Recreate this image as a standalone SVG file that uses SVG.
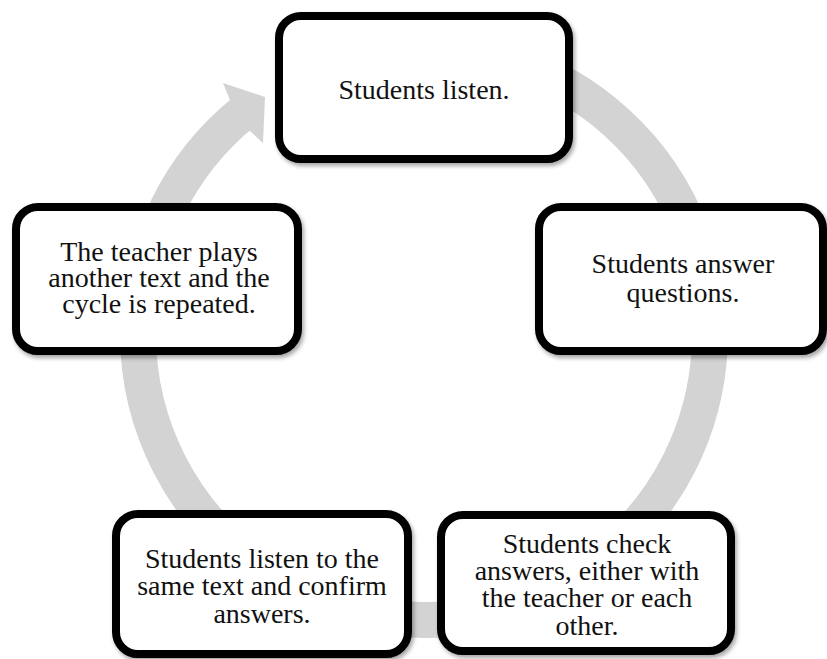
<svg xmlns="http://www.w3.org/2000/svg" width="827" height="659" viewBox="0 0 827 659">
<style>
.box{fill:#fff;stroke:#000;stroke-width:8;filter:url(#sh)}
.t{font-family:"Liberation Serif","DejaVu Serif",serif;font-size:28px;fill:#111;text-anchor:middle}
.ring{fill:none;stroke:#d3d3d3;stroke-width:36}
</style>
<defs>
<filter id="sh" x="-10%" y="-10%" width="125%" height="130%">
<feDropShadow dx="2" dy="3" stdDeviation="2" flood-color="#000" flood-opacity="0.35"/>
</filter>
</defs>
<rect width="827" height="659" fill="#fff"/>
<g id="connectors">
<path class="ring" d="M498,57.7 A286,286 0 1 1 242.8,112.7"/>
<polygon points="223,83 265,97 263,143 238,120" fill="#d3d3d3"/>
</g>
<g id="n1">
<rect class="box" x="279" y="16" width="290" height="143" rx="22"/>
<text class="t" x="424" y="99">Students listen.</text>
</g>
<g id="n2">
<rect class="box" x="539" y="207" width="284" height="144" rx="22"/>
<text class="t" x="683" y="273">Students answer</text>
<text class="t" x="683" y="302">questions.</text>
</g>
<g id="n3">
<rect class="box" x="441" y="515" width="290" height="136" rx="22"/>
<text class="t" x="587" y="553">Students check</text>
<text class="t" x="587" y="580">answers, either with</text>
<text class="t" x="587" y="607">the teacher or each</text>
<text class="t" x="587" y="635">other.</text>
</g>
<g id="n4">
<rect class="box" x="116" y="514" width="292" height="140" rx="22"/>
<text class="t" x="262" y="568">Students listen to the</text>
<text class="t" x="262" y="595">same text and confirm</text>
<text class="t" x="262" y="623">answers.</text>
</g>
<g id="n5">
<rect class="box" x="16" y="207" width="282" height="144" rx="22"/>
<text class="t" x="159" y="261">The teacher plays</text>
<text class="t" x="159" y="287">another text and the</text>
<text class="t" x="159" y="313">cycle is repeated.</text>
</g>
</svg>
